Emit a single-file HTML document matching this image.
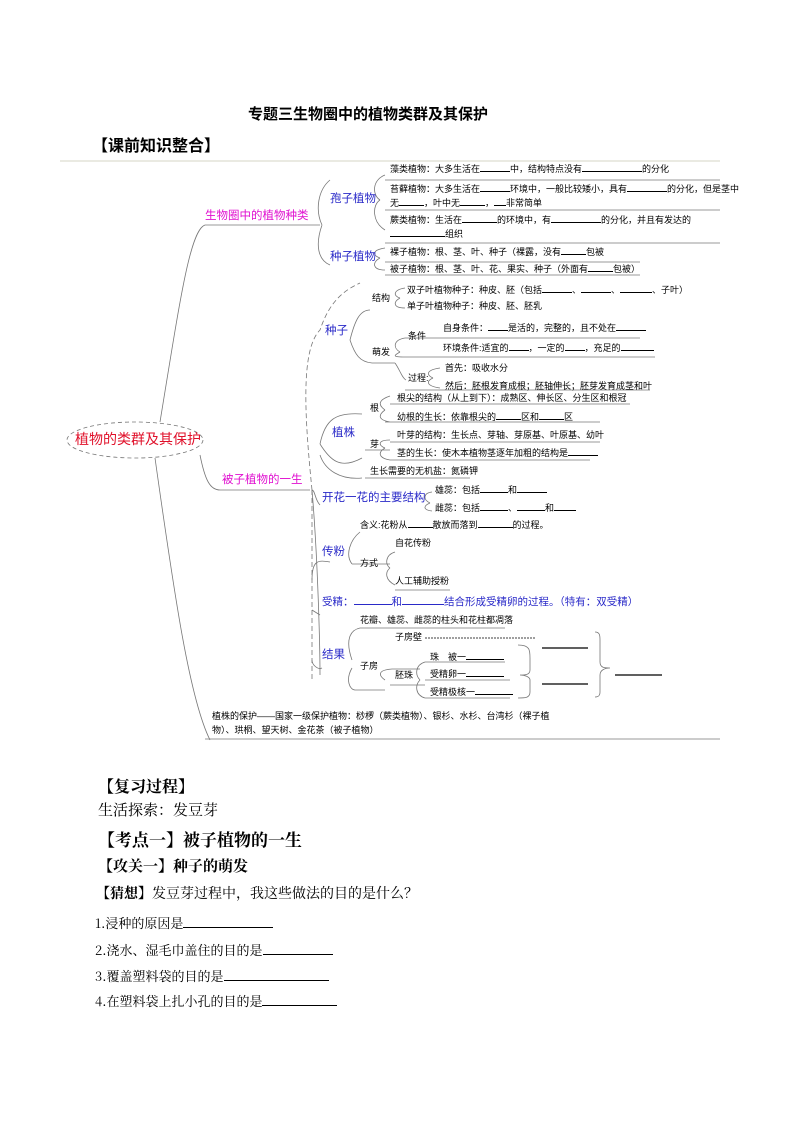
<!DOCTYPE html>
<html><head><meta charset="utf-8"><style>
body{margin:0;width:794px;height:1123px;background:#fff;position:relative;overflow:hidden;font-family:"Liberation Sans","Noto Sans CJK SC",sans-serif;color:#000}
.t{position:absolute;font-size:9px;white-space:nowrap;line-height:12px}
.b{color:#2a2ac8;font-size:11.5px}
.m{color:#e010d0;font-size:11.5px}
.u{display:inline-block;border-bottom:1px solid #000;height:9px;vertical-align:baseline}
.h{position:absolute;white-space:nowrap;font-family:"Noto Serif CJK SC","Liberation Serif",serif}
</style></head><body>
<div class="h" style="left:248px;top:103px;font-size:15px;font-weight:bold;font-family:'Noto Sans CJK SC',sans-serif">专题三生物圈中的植物类群及其保护</div>
<div class="h" style="left:92px;top:132px;font-size:16px;font-weight:bold;font-family:'Noto Sans CJK SC',sans-serif">【课前知识整合】</div>

<svg width="794" height="1123" style="position:absolute;left:0;top:0" fill="none" stroke="#777" stroke-width="0.8">
<line x1="60" y1="161" x2="720" y2="161" stroke="#c8c8b0"/>
<line x1="205" y1="739" x2="720" y2="739" stroke="#bbb" stroke-width="1.5"/>
<ellipse cx="135" cy="440" rx="68" ry="18" stroke-dasharray="4,3"/>
<path d="M160 422 C180 300 190 230 205 225 L320 225"/>
<path d="M200 455 C205 480 210 490 220 490 L310 490"/>
<path d="M155 458 C175 600 190 700 210 740"/>
<path d="M322 225 C315 210 318 190 330 180 M322 225 C315 245 318 260 330 265"/>
<path d="M380 200 C372 195 372 180 385 175 M380 200 C372 205 372 222 385 230"/>
<path d="M380 258 C372 255 372 250 385 248 M380 258 C372 262 372 270 385 270"/>
<path d="M385 180 L720 180 M385 210 L720 210 M385 243 L720 243 M385 262 L640 262 M385 275 L640 275"/>
<path d="M312 490 C305 420 300 350 320 330 C330 300 345 290 360 283" stroke-dasharray="5,3"/>
<path d="M312 490 L312 680" stroke-dasharray="5,3"/>
<path d="M312 490 C318 560 320 650 320 675"/>
<path d="M350 340 C355 320 360 310 370 310 M350 340 C355 355 360 362 372 363"/>
<path d="M400 298 C393 296 393 290 405 288 M400 298 C393 302 393 308 405 308"/>
<path d="M372 363 L395 363 M400 352 C393 348 393 340 405 338 M400 352 C393 356 393 357 405 357"/>
<path d="M405 338 L640 338 M405 357 L655 357 M405 390 L650 390"/>
<path d="M433 378 C426 375 426 370 440 368 M433 378 C426 381 426 386 440 388 M395 363 C400 370 402 378 406 380"/>
<path d="M320 444 C325 420 335 412 362 414 M320 444 C330 460 340 470 362 458 M362 478 C340 480 325 470 320 455"/>
<path d="M385 410 C378 405 378 400 390 396 M385 410 C378 415 378 420 390 422 M385 422 L600 422 M390 404 L630 404"/>
<path d="M385 448 C378 445 378 440 390 440 M385 448 C378 452 378 458 390 460 M365 450 L390 450 M390 442 L600 442 M390 460 L590 460 M365 478 L470 478"/>
<path d="M320 505 C315 500 315 490 312 490 M430 503 C423 500 423 493 432 492 M430 503 C423 506 423 510 432 511"/>
<path d="M312 580 C312 560 318 560 330 562 M352 564 C345 555 350 540 360 532 M352 564 L390 564 M390 568 C385 565 385 555 395 552 M390 568 C385 572 385 580 395 585 M395 590 L450 590"/>
<path d="M312 610 L320 615 M312 660 C312 665 318 670 322 668"/>
<path d="M352 660 C345 640 350 630 360 628 L505 628 M352 668 C345 680 350 690 355 690 L385 690 M385 680 C378 675 378 670 392 669 L420 669 M390 685 L425 685"/>
<path d="M420 680 C415 675 415 665 425 662 L505 662 M420 680 C415 685 415 695 425 698 M425 680 L510 680 M425 698 L510 698"/>
<path d="M518 645 C530 645 530 650 530 658 L530 670 C530 675 525 675 520 675 C525 675 530 677 530 680 L530 692 C530 698 525 698 518 698"/>
<path d="M595 632 C600 632 600 636 600 640 L600 662 C600 668 605 668 610 668 C605 668 600 670 600 675 L600 692 C600 696 598 697 595 697"/>
</svg>
<svg width="794" height="1123" style="position:absolute;left:0;top:0" stroke="#000" stroke-width="1.2">
<line x1="542" y1="648" x2="588" y2="648"/><line x1="542" y1="684" x2="588" y2="684"/><line x1="615" y1="675" x2="662" y2="675"/>
<line x1="425" y1="638" x2="535" y2="638" stroke-dasharray="2,1" stroke-width="0.8"/>
</svg>

<div class="t" style="left:75px;top:430px;color:#e0102a;font-size:14px;line-height:18px">植物的类群及其保护</div>
<div class="t m" style="left:205px;top:210px">生物圈中的植物种类</div>
<div class="t m" style="left:222px;top:474px">被子植物的一生</div>
<div class="t b" style="left:330px;top:193px">孢子植物</div>
<div class="t b" style="left:330px;top:251px">种子植物</div>
<div class="t" style="left:390px;top:162px">藻类植物：大多生活在<span class="u" style="width:30px"></span>中，结构特点没有<span class="u" style="width:60px"></span>的分化</div>
<div class="t" style="left:390px;top:182px">苔藓植物：大多生活在<span class="u" style="width:30px"></span>环境中，一般比较矮小，具有<span class="u" style="width:40px"></span>的分化，但是茎中</div>
<div class="t" style="left:390px;top:196px">无<span class="u" style="width:25px"></span>，叶中无<span class="u" style="width:25px"></span>，<span class="u" style="width:12px"></span>非常简单</div>
<div class="t" style="left:390px;top:213px">蕨类植物：生活在<span class="u" style="width:35px"></span>的环境中，有<span class="u" style="width:50px"></span>的分化，并且有发达的</div>
<div class="t" style="left:390px;top:227px"><span class="u" style="width:55px"></span>组织</div>
<div class="t" style="left:390px;top:245px">裸子植物：根、茎、叶、种子（裸露，没有<span class="u" style="width:25px"></span>包被</div>
<div class="t" style="left:390px;top:262px">被子植物：根、茎、叶、花、果实、种子（外面有<span class="u" style="width:25px"></span>包被）</div>

<div class="t b" style="left:325px;top:325px">种子</div>
<div class="t" style="left:372px;top:292px">结构</div>
<div class="t" style="left:407px;top:283px">双子叶植物种子：种皮、胚（包括<span class="u" style="width:30px"></span>、<span class="u" style="width:30px"></span>、<span class="u" style="width:32px"></span>、子叶）</div>
<div class="t" style="left:407px;top:300px">单子叶植物种子：种皮、胚、胚乳</div>
<div class="t" style="left:372px;top:346px">萌发</div>
<div class="t" style="left:408px;top:330px">条件</div>
<div class="t" style="left:443px;top:321px">自身条件：<span class="u" style="width:20px"></span>是活的，完整的，且不处在<span class="u" style="width:30px"></span></div>
<div class="t" style="left:443px;top:341px">环境条件:适宜的<span class="u" style="width:20px"></span>，一定的<span class="u" style="width:20px"></span>，充足的<span class="u" style="width:33px"></span></div>
<div class="t" style="left:408px;top:372px">过程:</div>
<div class="t" style="left:445px;top:362px">首先：吸收水分</div>
<div class="t" style="left:445px;top:380px">然后：胚根发育成根；胚轴伸长；胚芽发育成茎和叶</div>

<div class="t b" style="left:332px;top:427px">植株</div>
<div class="t" style="left:370px;top:402px">根</div>
<div class="t" style="left:370px;top:438px">芽</div>
<div class="t" style="left:397px;top:392px">根尖的结构（从上到下）：成熟区、伸长区、分生区和根冠</div>
<div class="t" style="left:397px;top:410px">幼根的生长：依靠根尖的<span class="u" style="width:25px"></span>区和<span class="u" style="width:25px"></span>区</div>
<div class="t" style="left:397px;top:429px">叶芽的结构：生长点、芽轴、芽原基、叶原基、幼叶</div>
<div class="t" style="left:397px;top:446px">茎的生长：使木本植物茎逐年加粗的结构是<span class="u" style="width:30px"></span></div>
<div class="t" style="left:370px;top:465px">生长需要的无机盐：氮磷钾</div>

<div class="t b" style="left:322px;top:492px">开花一花的主要结构</div>
<div class="t" style="left:435px;top:483px">雄蕊：包括<span class="u" style="width:28px"></span>和<span class="u" style="width:30px"></span></div>
<div class="t" style="left:435px;top:501px">雌蕊：包括<span class="u" style="width:28px"></span>、<span class="u" style="width:28px"></span>和<span class="u" style="width:22px"></span></div>
<div class="t" style="left:360px;top:518px">含义:花粉从<span class="u" style="width:25px"></span>散放而落到<span class="u" style="width:35px"></span>的过程。</div>
<div class="t b" style="left:322px;top:546px">传粉</div>
<div class="t" style="left:395px;top:537px">自花传粉</div>
<div class="t" style="left:360px;top:557px">方式</div>
<div class="t" style="left:395px;top:575px">人工辅助授粉</div>
<div class="t b" style="left:322px;top:594px;font-size:10.5px">受精：<span class="u" style="width:38px;height:10px;border-color:#2a2ac8"></span>和<span class="u" style="width:42px;height:10px;border-color:#2a2ac8"></span>结合形成受精卵的过程。（特有：双受精）</div>
<div class="t" style="left:360px;top:614px">花瓣、雄蕊、雌蕊的柱头和花柱都凋落</div>
<div class="t b" style="left:322px;top:649px">结果</div>
<div class="t" style="left:395px;top:631px">子房壁</div>
<div class="t" style="left:360px;top:660px">子房</div>
<div class="t" style="left:430px;top:650px">珠　被一<span class="u" style="width:38px"></span></div>
<div class="t" style="left:395px;top:669px">胚珠</div>
<div class="t" style="left:430px;top:667px">受精卵一<span class="u" style="width:38px"></span></div>
<div class="t" style="left:430px;top:685px">受精极核一<span class="u" style="width:38px"></span></div>
<div class="t" style="left:212px;top:710px">植株的保护——国家一级保护植物：桫椤（蕨类植物）、银杉、水杉、台湾杉（裸子植</div>
<div class="t" style="left:212px;top:724px">物）、珙桐、望天树、金花茶（被子植物）</div>

<div class="h" style="left:98px;top:774px;font-size:16px;font-weight:bold">【复习过程】</div>
<div class="h" style="left:98px;top:799px;font-size:15px">生活探索：发豆芽</div>
<div class="h" style="left:98px;top:826px;font-size:17px;font-weight:bold">【考点一】被子植物的一生</div>
<div class="h" style="left:98px;top:855px;font-size:15px;font-weight:bold">【攻关一】种子的萌发</div>
<div class="h" style="left:96px;top:883px;font-size:14px"><b>【猜想】</b>发豆芽过程中，我这些做法的目的是什么？</div>
<div class="h" style="left:95px;top:913px;font-size:13px">1.浸种的原因是<span class="u" style="width:90px;height:13px"></span></div>
<div class="h" style="left:95px;top:940px;font-size:13px">2.浇水、湿毛巾盖住的目的是<span class="u" style="width:70px;height:13px"></span></div>
<div class="h" style="left:95px;top:966px;font-size:13px">3.覆盖塑料袋的目的是<span class="u" style="width:105px;height:13px"></span></div>
<div class="h" style="left:95px;top:991px;font-size:13px">4.在塑料袋上扎小孔的目的是<span class="u" style="width:75px;height:13px"></span></div>
</body></html>
